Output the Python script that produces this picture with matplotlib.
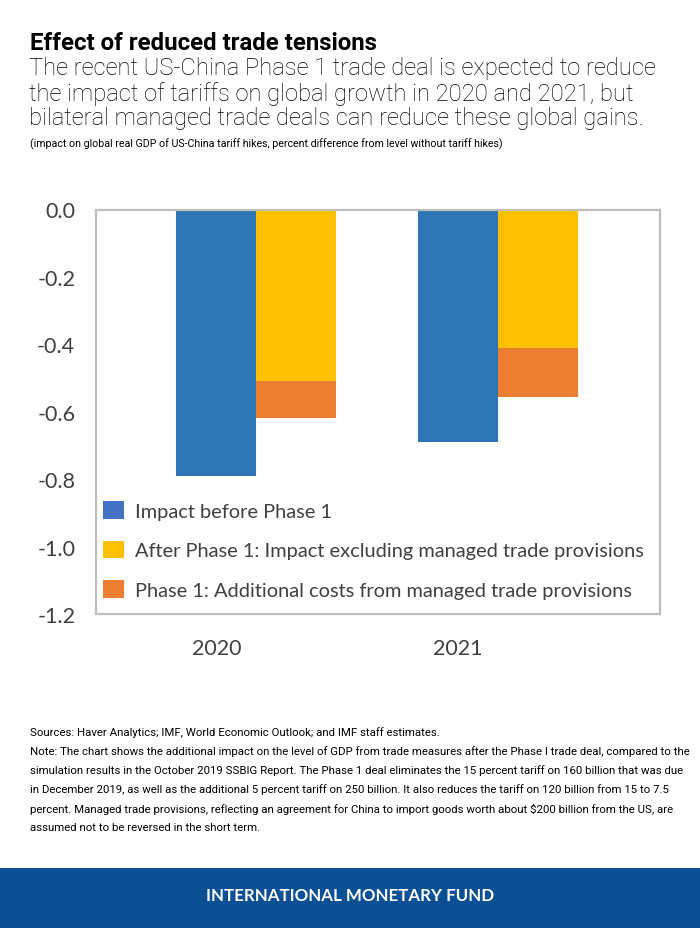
import matplotlib
matplotlib.use("Agg")
import matplotlib.pyplot as plt
from matplotlib.patches import Patch, Rectangle

# ---- data ----
years = ["2020", "2021"]
impact_before = [-0.79, -0.69]
after_excl_managed = [-0.51, -0.41]
managed_costs = [-0.11, -0.145]
series_labels = [
    "Impact before Phase 1",
    "After Phase 1: Impact excluding managed trade provisions",
    "Phase 1: Additional costs from managed trade provisions",
]
yticks = [0.0, -0.2, -0.4, -0.6, -0.8, -1.0, -1.2]

title = "Effect of reduced trade tensions"
subtitle_lines = [
    "The recent US-China Phase 1 trade deal is expected to reduce",
    "the impact of tariffs on global growth in 2020 and 2021, but",
    "bilateral managed trade deals can reduce these global gains.",
]
unit_note = "(impact on global real GDP of US-China tariff hikes, percent difference from level without tariff hikes)"
source_lines = [
    "Sources: Haver Analytics; IMF, World Economic Outlook; and IMF staff estimates.",
    "Note: The chart shows the additional impact on the level of GDP from trade measures after the Phase I trade deal, compared to the",
    "simulation results in the October 2019 SSBIG Report. The Phase 1 deal eliminates the 15 percent tariff on 160 billion that was due",
    "in December 2019, as well as the additional 5 percent tariff on 250 billion. It also reduces the tariff on 120 billion from 15 to 7.5",
    "percent. Managed trade provisions, reflecting an agreement for China to import goods worth about $200 billion from the US, are",
    "assumed not to be reversed in the short term.",
]
banner_text = "INTERNATIONAL MONETARY FUND"

C_BLUE = "#2E75B6"
C_YEL = "#FFC000"
C_ORA = "#ED7D31"

W, H = 700, 929
fig = plt.figure(figsize=(W / 100, H / 100), dpi=100)
fig.patch.set_facecolor("white")

def fx(px):
    return px / W

def fy(py):
    return 1 - py / H

AX_L, AX_R, AX_T, AX_B = 96, 660, 210.5, 615
ax = fig.add_axes([fx(AX_L), fy(AX_B), fx(AX_R) - fx(AX_L), fy(AX_T) - fy(AX_B)])

x = list(range(len(years)))
bw = 0.331
ax.bar(x, impact_before, width=bw, color=C_BLUE, align="center")
x2 = [i + bw for i in x]
ax.bar(x2, after_excl_managed, width=bw, color=C_YEL)
ax.bar(x2, managed_costs, width=bw, bottom=after_excl_managed, color=C_ORA)

ax.set_xlim(-0.498, 1.835)
ax.set_ylim(-1.2, 0.0)
ax.set_yticks(yticks)
ax.set_yticklabels([f"{v:.1f}" for v in yticks])
ax.set_xticks(x)
ax.set_xticklabels(years)
for lab in ax.get_yticklabels() + ax.get_xticklabels():
    lab.set_fontfamily("Lato")
    lab.set_fontsize(15.5)
    lab.set_color("#404040")
ax.tick_params(axis="both", length=0)
ax.tick_params(axis="y", pad=15)
ax.tick_params(axis="x", pad=17)
for s in ax.spines.values():
    s.set_color("#BFBFBF")
    s.set_linewidth(1.6)

handles = [Patch(facecolor="#4472C4"), Patch(facecolor=C_YEL), Patch(facecolor=C_ORA)]
leg = ax.legend(handles, series_labels, loc="lower left",
                bbox_to_anchor=(7 / (AX_R - AX_L), 15 / (AX_B - AX_T)),
                frameon=False, prop=dict(family="Lato", size=14.45),
                handlelength=1.05, handleheight=0.95, handletextpad=0.55,
                labelspacing=1.05, borderaxespad=0.0, borderpad=0.0)
for t in leg.get_texts():
    t.set_color("#404040")

# ---- header ----
fig.text(fx(30), fy(44), title, family="Roboto", weight="bold", size=17.3,
         va="center", ha="left", color="black")
for i, line in enumerate(subtitle_lines):
    fig.text(fx(29), fy(69 + 25 * i), line, family="Roboto", weight="light",
             size=17.1, va="center", ha="left", color="black")
fig.text(fx(30), fy(144), unit_note, family="Roboto", size=7.65, va="center",
         ha="left", color="black")

# ---- footer ----
for i, line in enumerate(source_lines):
    fig.text(fx(30), fy(733 + 19 * i), line, family="Roboto", size=8.2,
             va="center", ha="left", color="black")

fig.patches.append(Rectangle((0, 0), 1, fy(869), transform=fig.transFigure,
                             facecolor="#0B4F94", edgecolor="none"))
fig.text(0.5, fy(896), banner_text, family="Lato", weight="bold", size=12.2,
         color="white", ha="center", va="center")

fig.savefig("out.png", dpi=100)
